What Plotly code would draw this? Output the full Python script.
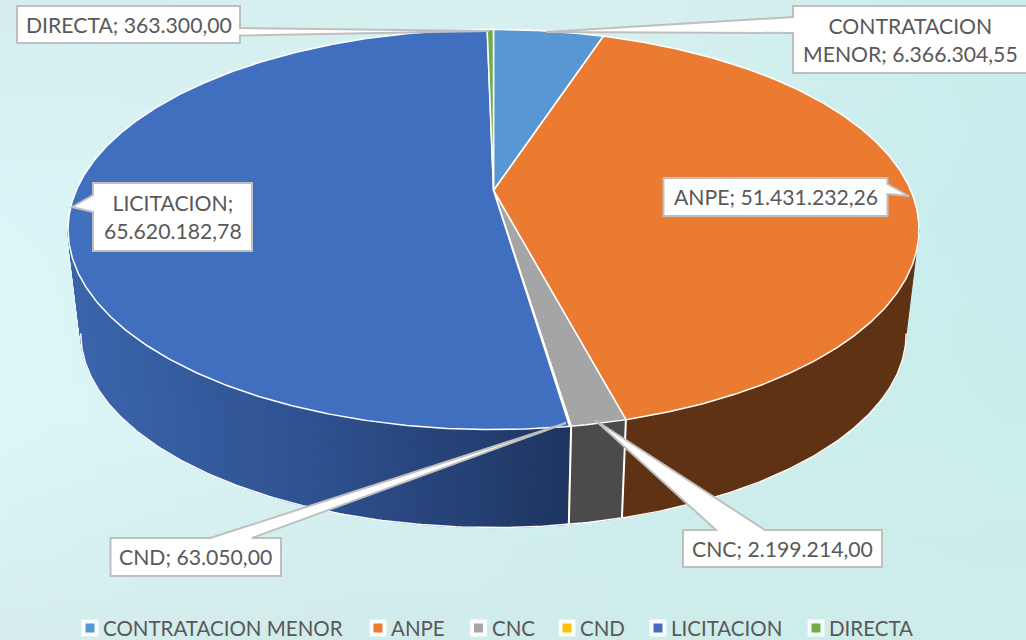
import base64, struct, zlib
import numpy as np
import plotly.graph_objects as go

# ---------- data ----------
categories = ["CONTRATACION MENOR", "ANPE", "CNC", "CND", "LICITACION", "DIRECTA"]
values = [6366304.55, 51431232.26, 2199214.00, 63050.00, 65620182.78, 363300.00]
top_colors = ["#5997D4", "#EA7B30", "#A5A5A5", "#FFC000", "#416FBF", "#70AD47"]
side_colors = ["#375E82", "#5F3213", "#4B4B4B", "#997300", None, "#43682B"]
label_breaks = {"CONTRATACION MENOR": "CONTRATACION<br>MENOR", "LICITACION": "LICITACION"}

FONT = "Lato"
TEXT = "#595959"

# ---------- projection of the tilted pie ----------
CX, K, A, B, C = 493.5, 0.195, -155.3, 190.5, 417.3
S, T = 0.97, 110.9
SIL_R = np.degrees(np.arccos(-K))
SIL_L = 360 - SIL_R


def top_xy(deg):
    a = np.radians(deg)
    u, v = np.sin(a), np.cos(a)
    d = 1 + K * v
    return CX + C * u / d, (A * v + B) / d


def bot_xy(deg):
    x, y = top_xy(deg)
    return CX + S * (x - CX), S * y + T


def hex2rgb(h):
    return np.array([int(h[i:i + 2], 16) for i in (1, 3, 5)], float)


def lerp_stops(t, stops):
    t = min(max(t, 0), 1) * (len(stops) - 1)
    i = min(int(t), len(stops) - 2)
    c = hex2rgb(stops[i]) * (1 - (t - i)) + hex2rgb(stops[i + 1]) * (t - i)
    return "rgb(%d,%d,%d)" % tuple(c)


# ---------- background ----------
bg_grid = np.array([
    [[214, 238, 240], [214, 240, 240], [214, 240, 239], [202, 237, 236]],
    [[219, 246, 248], [218, 245, 246], [208, 241, 241], [200, 237, 237]],
    [[221, 247, 248], [216, 243, 243], [206, 239, 238], [203, 238, 236]],
    [[214, 238, 238], [210, 236, 236], [206, 236, 234], [206, 236, 234]],
], float)


def bg_uri(w=103, h=64):
    gy, gx = np.mgrid[0:h, 0:w]
    fx = gx / (w - 1) * 3
    fy = gy / (h - 1) * 3
    ix = np.minimum(fx.astype(int), 2)
    iy = np.minimum(fy.astype(int), 2)
    tx = (fx - ix)[..., None]
    ty = (fy - iy)[..., None]
    img = (bg_grid[iy, ix] * (1 - tx) * (1 - ty) + bg_grid[iy, ix + 1] * tx * (1 - ty)
           + bg_grid[iy + 1, ix] * (1 - tx) * ty + bg_grid[iy + 1, ix + 1] * tx * ty).astype(np.uint8)
    raw = b"".join(b"\x00" + img[r].tobytes() for r in range(h))

    def chunk(t, d):
        return struct.pack(">I", len(d)) + t + d + struct.pack(">I", zlib.crc32(t + d) & 0xFFFFFFFF)

    png = b"\x89PNG\r\n\x1a\n" + chunk(b"IHDR", struct.pack(">IIBBBBB", w, h, 8, 2, 0, 0, 0)) \
        + chunk(b"IDAT", zlib.compress(raw)) + chunk(b"IEND", b"")
    return "data:image/png;base64," + base64.b64encode(png).decode()


fig = go.Figure()


def poly(xs, ys, fill, line="white", width=2, name=None):
    fig.add_trace(go.Scatter(x=list(xs), y=list(ys), mode="lines", fill="toself", fillcolor=fill,
                             line=dict(color=line, width=width), hoverinfo="text" if name else "skip",
                             text=name, showlegend=False))


total = sum(values)
bounds = np.concatenate([[0], np.cumsum(values) / total * 360])

# side wall
for i, cat in enumerate(categories):
    a0, a1 = max(bounds[i], SIL_R), min(bounds[i + 1], SIL_L)
    if a1 <= a0:
        continue
    if cat == "LICITACION":
        edges = np.linspace(a0, a1, 90)
        for e0, e1 in zip(edges[:-1], edges[1:]):
            aa = np.linspace(e0, e1, 3)
            xt, yt = top_xy(aa)
            xb, yb = bot_xy(aa)
            col = lerp_stops((568 - (xb.mean())) / (568 - 80), ["#1E3561", "#2F5190", "#3B65AC"])
            poly(np.r_[xt, xb[::-1], xt[0]], np.r_[yt, yb[::-1], yt[0]], col, line=col, width=1)
    else:
        aa = np.linspace(a0, a1, 80)
        xt, yt = top_xy(aa)
        xb, yb = bot_xy(aa)
        poly(np.r_[xt, xb[::-1], xt[0]], np.r_[yt, yb[::-1], yt[0]], side_colors[i], line=side_colors[i], width=1)

# side wall outlines
aa = np.linspace(SIL_R, SIL_L, 240)
xb, yb = bot_xy(aa)
fig.add_trace(go.Scatter(x=xb, y=yb, mode="lines", line=dict(color="white", width=1.5), hoverinfo="skip", showlegend=False))
for b in bounds[1:-1]:
    if SIL_R < b < SIL_L and abs(b - bounds[4]) > 0.0001:
        xt, yt = top_xy(b)
        xb1, yb1 = bot_xy(b)
        fig.add_trace(go.Scatter(x=[xt, xb1], y=[yt, yb1], mode="lines", line=dict(color="white", width=2),
                                 hoverinfo="skip", showlegend=False))

# top slices
for i, cat in enumerate(categories):
    n = max(4, int((bounds[i + 1] - bounds[i]) * 2))
    aa = np.linspace(bounds[i], bounds[i + 1], n)
    xt, yt = top_xy(aa)
    cx0, cy0 = top_xy(0.0)[0], B
    poly(np.r_[cx0, xt, cx0], np.r_[cy0, yt, cy0], top_colors[i], width=1.5, name=cat)

# legend row
legend_marker_x = [90, 378, 478.5, 567, 658, 816]
legend_y = [628] * 6
fig.add_trace(go.Scatter(x=legend_marker_x, y=legend_y, mode="markers", hoverinfo="skip", showlegend=False,
                         marker=dict(symbol="square", size=17, color="rgba(255,255,255,0.9)")))
fig.add_trace(go.Scatter(x=legend_marker_x, y=legend_y, mode="markers", hoverinfo="skip", showlegend=False,
                         marker=dict(symbol="square", size=9, color=top_colors)))
annos = []
for mx, my, cat in zip(legend_marker_x, legend_y, categories):
    annos.append(dict(x=mx + 11, y=my, text=cat, xanchor="left", yanchor="middle", showarrow=False,
                      xref="x", yref="y", font=dict(family=FONT, size=20.5, color=TEXT)))


# ---------- callouts ----------
def fmt(v):
    return f"{v:,.2f}".replace(",", "#").replace(".", ",").replace("#", ".")


def callout(cat, box, pointer, dx=0):
    x0, y0, x1, y1 = box
    i = categories.index(cat)
    pts = [(x0, y0), (x1, y0), (x1, y1), (x0, y1)]
    side, p0, tip, p1 = pointer
    if side == "right":
        pts = [(x0, y0), (x1, y0), p0, tip, p1, (x1, y1), (x0, y1)]
    elif side == "left":
        pts = [(x0, y0), (x1, y0), (x1, y1), (x0, y1), p1, tip, p0]
    elif side == "top":
        pts = [(x0, y0), p0, tip, p1, (x1, y0), (x1, y1), (x0, y1)]
    path = "M " + " L ".join(f"{a},{b}" for a, b in pts) + " Z"
    shapes.append(dict(type="path", path=path, xref="x", yref="y", fillcolor="white",
                       line=dict(color="#BFBFBF", width=2)))
    name = label_breaks.get(cat, cat)
    sep = "<br>" if cat == "LICITACION" else " "
    annos.append(dict(x=(x0 + min(x1, 1026 + 2)) / 2 + dx, y=(y0 + y1) / 2, text=f"{name};{sep}{fmt(values[i])}",
                      showarrow=False, xref="x", yref="y", xanchor="center", yanchor="middle",
                      font=dict(family=FONT, size=21.2, color=TEXT), align="center"))


shapes = []
callout("DIRECTA", (17, 6, 240, 43), ("right", (240, 28), (489, 31), (240, 35.5)))
callout("CONTRATACION MENOR", (793, 6, 1040, 73), ("left", (793, 17), (546, 32), (793, 33)))
callout("ANPE", (663.5, 178, 887.5, 216), ("right", (887.5, 184), (909, 196), (887.5, 194)))
callout("LICITACION", (93, 183, 252, 251), ("left", (93, 195), (72, 207), (93, 212)))
callout("CND", (110.5, 538, 281, 576), ("top", (210.5, 538), (566, 423), (252, 538)))
callout("CNC", (683, 530, 882, 567), ("top", (716, 530), (595, 420), (765, 530)))

fig.update_layout(
    width=1026, height=640, margin=dict(l=0, r=0, t=0, b=0),
    paper_bgcolor="#D4F0F0", plot_bgcolor="rgba(0,0,0,0)", showlegend=False,
    xaxis=dict(range=[0, 1026], visible=False, fixedrange=True),
    yaxis=dict(range=[640, 0], visible=False, fixedrange=True),
    images=[dict(source=bg_uri(), xref="paper", yref="paper", x=0, y=1, sizex=1, sizey=1,
                 sizing="stretch", xanchor="left", yanchor="top", layer="below")],
    shapes=shapes, annotations=annos,
)
fig.write_html("out.html", config={"displayModeBar": False},
               post_script="document.body.style.margin='0';document.body.style.overflow='hidden';")
